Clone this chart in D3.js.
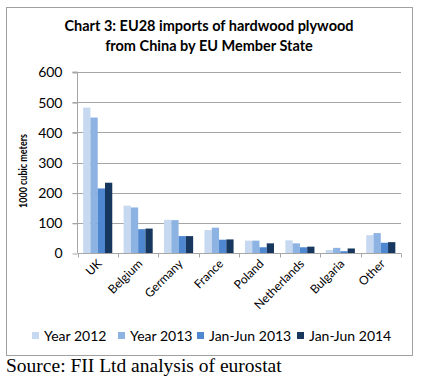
<!DOCTYPE html>
<html>
<head>
<meta charset="utf-8">
<script src="https://cdn.jsdelivr.net/npm/d3@7"></script>
<style>
  body { margin: 0; background: #fff; }
  svg { display: block; }
</style>
</head>
<body>
<div class="graph"></div>
<script>
const countries = ["UK", "Belgium", "Germany", "France", "Poland", "Netherlands", "Bulgaria", "Other"]
const seriesNames = ["Year 2012", "Year 2013", "Jan-Jun 2013", "Jan-Jun 2014"]
const year2012 = [482, 157, 110, 76, 41, 42, 10, 59]
const year2013 = [449, 151, 109, 84, 41, 32, 17, 66]
const h1_2013 = [214, 79, 56, 44, 19, 19, 6, 34]
const h1_2014 = [233, 81, 56, 45, 32, 21, 15, 36]
const yTicks = [0, 100, 200, 300, 400, 500, 600]
const colors = ["#c6d9f1", "#8db3e2", "#4f87d1", "#17375e"]

const seriesValues = [year2012, year2013, h1_2013, h1_2014]

const w = 421
const h = 379
const plotLeft = 77.5, plotRight = 401, plotTop = 72, plotBottom = 253

const svg = d3.select(".graph")
  .append("svg")
  .attr("width", w)
  .attr("height", h)
  .style("background", "#fff")

// chart frame
svg.append("rect")
  .attr("x", 6.5).attr("y", 7.5)
  .attr("width", 406).attr("height", 348)
  .attr("fill", "none")
  .attr("stroke", "#a0a0a0")
  .attr("stroke-width", 1)

// title
const title = svg.append("text")
  .attr("text-anchor", "middle")
  .style("font-family", "Lato, 'Open Sans', sans-serif")
  .style("font-weight", "bold")
  .style("font-size", "14.5px")
  .attr("fill", "#000")
title.append("tspan").attr("x", 209).attr("y", 31).text("Chart 3: EU28 imports of hardwood plywood")
title.append("tspan").attr("x", 209).attr("y", 51).text("from China by EU Member State")

const x = d3.scaleBand()
  .domain(countries)
  .range([plotLeft, plotRight])

const xInner = d3.scaleBand()
  .domain(seriesNames)
  .range([0, x.bandwidth()])
  .paddingOuter(0.78)

const y = d3.scaleLinear()
  .domain([0, 600])
  .range([plotBottom, plotTop])

// gridlines
svg.append("g")
  .selectAll("line")
  .data(yTicks.slice(1))
  .enter()
  .append("line")
  .attr("x1", plotLeft - 5).attr("x2", plotRight)
  .attr("y1", d => Math.round(y(d)) + 0.5)
  .attr("y2", d => Math.round(y(d)) + 0.5)
  .attr("stroke", "#a6a6a6")

// y axis
const yAxis = svg.append("g")
  .attr("transform", "translate(" + Math.floor(plotLeft) + ".5,0.5)")
  .call(d3.axisLeft(y).tickValues(yTicks).tickSize(5).tickPadding(10))
yAxis.select(".domain").attr("stroke", "#a6a6a6").attr("d", "M-5," + (plotTop - 0.5) + "H0V" + (plotBottom - 0.5))
yAxis.selectAll(".tick line").attr("stroke", "#a6a6a6")
yAxis.selectAll(".tick text")
  .style("font-family", "Lato, 'Open Sans', sans-serif")
  .style("font-size", "14px")
  .attr("fill", "#000")

// bars
svg.append("g")
  .selectAll("g")
  .data(seriesValues)
  .enter()
  .append("g")
  .attr("fill", (d, i) => colors[i])
  .selectAll("rect")
  .data((d, i) => d.map((v, j) => ({country: countries[j], series: seriesNames[i], value: v})))
  .enter()
  .append("rect")
  .attr("x", d => x(d.country) + xInner(d.series))
  .attr("width", xInner.bandwidth())
  .attr("y", d => y(d.value))
  .attr("height", d => y(0) - y(d.value))
  .append("title")
  .text(d => d.country + ", " + d.series + ": " + d.value)

// x axis
const xAxis = svg.append("g")
  .attr("transform", "translate(0," + (plotBottom + 0.5) + ")")
xAxis.append("line")
  .attr("x1", plotLeft).attr("x2", plotRight)
  .attr("stroke", "#a6a6a6")
xAxis.selectAll(".sep")
  .data(countries.map(c => x(c)).concat([plotRight]))
  .enter()
  .append("line")
  .attr("class", "sep")
  .attr("x1", d => Math.round(d) + 0.5).attr("x2", d => Math.round(d) + 0.5)
  .attr("y1", 0).attr("y2", 4)
  .attr("stroke", "#a6a6a6")
xAxis.selectAll("text")
  .data(countries)
  .enter()
  .append("text")
  .attr("transform", d => "translate(" + (x(d) + x.bandwidth() / 2 + 2) + ",8) rotate(-45)")
  .attr("text-anchor", "end")
  .attr("dy", "0.35em")
  .style("font-family", "Lato, 'Open Sans', sans-serif")
  .style("font-size", "12px")
  .attr("fill", "#000")
  .text(d => d)

// y label
svg.append("text")
  .attr("transform", "translate(27,171) rotate(-90)")
  .attr("text-anchor", "middle")
  .attr("textLength", 74)
  .attr("lengthAdjust", "spacingAndGlyphs")
  .style("font-family", "Lato, 'Open Sans', sans-serif")
  .style("font-weight", "bold")
  .style("font-size", "11px")
  .attr("fill", "#000")
  .text("1000 cubic meters")

// legend
const legendX = [32, 118, 197, 297]
const legend = svg.append("g")
  .selectAll("g")
  .data(seriesNames)
  .enter()
  .append("g")
  .attr("transform", (d, i) => "translate(" + legendX[i] + ",332)")
legend.append("rect")
  .attr("width", 7).attr("height", 7)
  .attr("fill", (d, i) => colors[i])
legend.append("text")
  .attr("x", 12).attr("y", 8.5)
  .style("font-family", "Lato, 'Open Sans', sans-serif")
  .style("font-size", "14px")
  .attr("fill", "#000")
  .text(d => d)

// source
svg.append("text")
  .attr("x", 6).attr("y", 372)
  .style("font-family", "'Liberation Serif', 'Times New Roman', serif")
  .style("font-size", "19.5px")
  .attr("fill", "#000")
  .text("Source: FII Ltd analysis of eurostat")
</script>
</body>
</html>
